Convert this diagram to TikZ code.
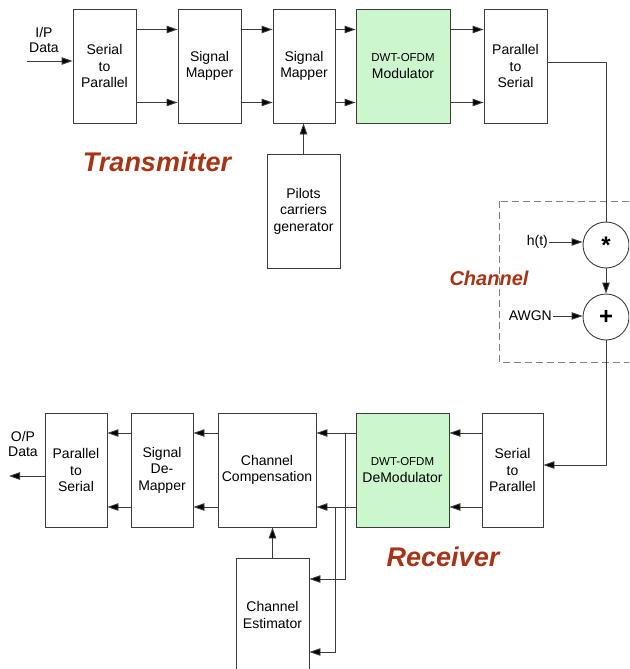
\documentclass[tikz,border=0pt]{standalone}
\usepackage{fontspec}
\setmainfont{Liberation Sans}
\usetikzlibrary{arrows.meta,calc}
\definecolor{modgreen}{RGB}{204,247,204}
\definecolor{titlered}{RGB}{168,52,22}
\definecolor{linegray}{RGB}{60,60,60}
\tikzset{
  blk/.style={draw=linegray, line width=0.9pt, minimum height=114pt, align=center, inner sep=1pt,
              font=\fontsize{14}{16.5}\selectfont},
  modblk/.style={blk, fill=modgreen},
  sumnode/.style={draw=linegray, line width=0.9pt, circle, minimum size=46pt, inner sep=0pt,
              font=\fontsize{24}{24}\selectfont\bfseries},
  lbl/.style={align=center, inner sep=1pt, font=\fontsize{14}{15}\selectfont},
  title/.style={text=titlered, inner sep=0pt, font=\fontsize{27}{27}\selectfont\bfseries\itshape},
  wire/.style={draw=linegray, line width=0.9pt},
  arr/.style={wire, -{Triangle[length=11pt,width=7.5pt,fill=black]}},
}
\begin{document}
\begin{tikzpicture}[x=1pt,y=-1pt]
\useasboundingbox (0,0) rectangle (629,669);
\clip (0,0) rectangle (629,669);
% transmitter
\node[blk, minimum width=63pt] (sp1) at (104.5,66) {Serial\\to\\Parallel};
\node[blk, minimum width=63pt] (sm1) at (209.5,66) {Signal\\Mapper};
\node[blk, minimum width=62pt] (sm2) at (304,66) {Signal\\Mapper};
\node[modblk, minimum width=94pt] (mod) at (403,66) {{\fontsize{11.5}{13}\selectfont DWT-OFDM}\\Modulator};
\node[blk, minimum width=63pt] (ps1) at (515.5,66) {Parallel\\to\\Serial};
\node[blk, minimum width=73pt] (pil) at (303.5,211) {Pilots\\carriers\\generator};
\node[lbl] (inlbl) at (44,40) {I/P\\Data};
\coordinate (inp) at (27,61);
\node[title] (tx) at (157,162) {Transmitter};
% channel
\draw[draw=gray, line width=0.9pt, dash pattern=on 7pt off 4pt] (499,201) rectangle (645,362);
\node[sumnode] (mult) at (606,245) {*};
\node[sumnode] (add) at (606,317) {+};
\node[lbl, anchor=east] (ht) at (549,242) {h(t)};
\node[lbl, anchor=east] (awgn) at (553,316) {AWGN};
\node[title, font=\fontsize{20}{20}\selectfont\bfseries\itshape] (chl) at (489,278) {Channel};
% receiver
\node[blk, minimum width=62pt] (ps2) at (76,470) {Parallel\\to\\Serial};
\node[blk, minimum width=62pt] (dm) at (162,470) {Signal\\De-\\Mapper};
\node[blk, minimum width=98pt] (comp) at (267,470) {Channel\\Compensation};
\node[modblk, minimum width=93pt] (demod) at (402.5,470) {{\fontsize{11.5}{13}\selectfont DWT-OFDM}\\DeModulator};
\node[blk, minimum width=61pt] (sp2) at (512.5,470) {Serial\\to\\Parallel};
\node[blk, minimum width=73pt] (est) at (272.5,615) {Channel\\Estimator};
\node[lbl] (outlbl) at (23,444) {O/P\\Data};
\coordinate (outp) at (9,476);
\node[title] (rx) at (443,557) {Receiver};
\coordinate (b1) at (345,433);
\coordinate (b2) at (335,507);
% transmitter wires
\draw[arr] (inp) -- (inp -| sp1.west);
\foreach \a/\b in {sp1/sm1, sm1/sm2, sm2/mod, mod/ps1}{
  \draw[arr] ([yshift=36.5pt]\a.east) -- ([yshift=36.5pt]\b.west);
  \draw[arr] ([yshift=-36.5pt]\a.east) -- ([yshift=-36.5pt]\b.west);
}
\draw[arr] (pil.north) -- (pil.north |- sm2.south);
\draw[wire] ([yshift=4pt]ps1.east) -| (mult.north);
% channel wires
\draw[arr] (ht.east) -- (ht.east -| mult.west);
\draw[arr] (awgn.east) -- (awgn.east -| add.west);
\draw[arr] (mult.south) -- (add.north);
\draw[arr] (add.south) |- ([yshift=5pt]sp2.east);
% receiver wires
\foreach \a/\b in {sp2/demod, demod/comp, comp/dm, dm/ps2}{
  \draw[arr] ([yshift=37pt]\a.west) -- ([yshift=37pt]\b.east);
  \draw[arr] ([yshift=-37pt]\a.west) -- ([yshift=-37pt]\b.east);
}
\draw[arr] ([yshift=-6pt]ps2.west) -- (outp);
\draw[arr] (b1) |- ([yshift=36pt]est.east);
\draw[arr] (b2) |- ([yshift=-37pt]est.east);
\draw[arr] (est.north) -- (est.north |- comp.south);
\end{tikzpicture}
\end{document}
